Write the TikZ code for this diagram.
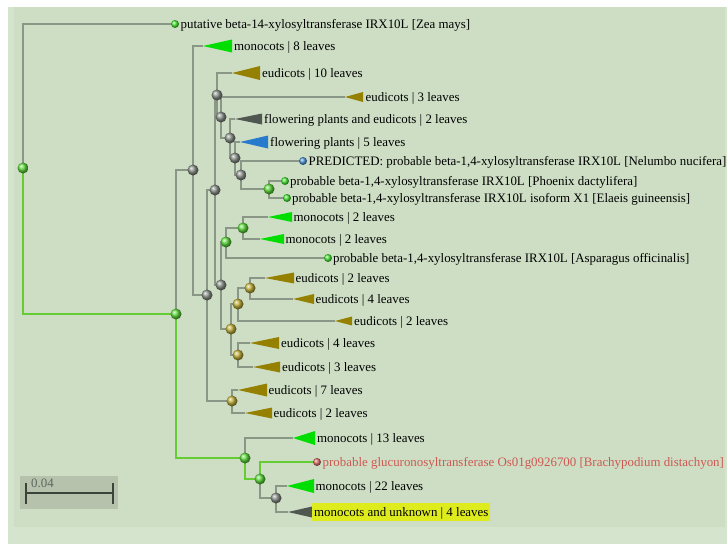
\documentclass[tikz,border=0pt]{standalone}
\usepackage{fontspec}
\setmainfont{Liberation Serif}
\usepackage{tikz}
\definecolor{tvwhite}{RGB}{255,255,255}
\definecolor{tvouter}{RGB}{213,228,204}
\definecolor{tvpanel}{RGB}{205,222,196}
\definecolor{tvbranch}{RGB}{138,150,134}
\definecolor{tvpath}{RGB}{102,204,51}
\definecolor{tvmono}{RGB}{0,222,0}
\definecolor{tveudi}{RGB}{150,128,0}
\definecolor{tvmixed}{RGB}{80,86,80}
\definecolor{tvflow}{RGB}{40,122,204}
\definecolor{tvballgray}{RGB}{140,146,138}
\definecolor{tvballgreen}{RGB}{95,220,60}
\definecolor{tvballolive}{RGB}{195,178,60}
\definecolor{tvdotgreen}{RGB}{70,235,50}
\definecolor{tvdotblue}{RGB}{80,150,215}
\definecolor{tvdotred}{RGB}{225,110,104}
\definecolor{tvred}{RGB}{205,88,82}
\definecolor{tvhilite}{RGB}{222,236,30}
\definecolor{tvscale}{RGB}{182,194,172}
\definecolor{tvbar}{RGB}{58,68,58}
\definecolor{tvscaletext}{RGB}{95,102,95}
\pgfdeclarelayer{panel}
\pgfdeclarelayer{branches}
\pgfsetlayers{panel,branches,main}
\tikzset{
  branch/.style={draw=tvbranch, line width=1.7pt},
  hit/.style={draw=tvpath, line width=1.7pt},
  inner/.style={circle, inner sep=0pt, minimum size=11pt},
  grayball/.style={inner, ball color=tvballgray},
  greenball/.style={inner, ball color=tvballgreen},
  oliveball/.style={inner, ball color=tvballolive},
  leafdot/.style={circle, inner sep=0pt, minimum size=8pt},
  monocl/.style={fill=tvmono},
  eudicl/.style={fill=tveudi},
  mixcl/.style={fill=tvmixed},
  flowcl/.style={fill=tvflow},
  lbl/.style={anchor=west, inner sep=0pt, text height=9pt, text depth=1pt, font=\fontsize{12.9}{14}\selectfont, text=black},
  scalebox/.style={fill=tvscale, minimum width=98pt, minimum height=33pt, inner sep=0pt},
  scalebar/.style={draw=tvbar, line width=1.5pt}
}
\begin{document}
\begin{tikzpicture}[x=1pt,y=-1pt]
    \useasboundingbox (0,0) rectangle (727,544);
    \begin{pgfonlayer}{panel}
      \fill[tvwhite] (0,0) rectangle (727,544);
      \fill[tvouter] (8,7) rectangle (727,544);
      \fill[tvpanel] (14,7) rectangle (725,527);
    \end{pgfonlayer}

    % internal nodes
    \node[greenball] (root) at (23,168) {};
    \node[greenball] (a) at (176,314) {};
    \node[grayball] (d) at (193,170) {};
    \node[grayball] (b) at (207,295) {};
    \node[grayball] (e) at (215,190) {};
    \node[grayball] (g) at (217,95) {};
    \node[grayball] (k) at (221,117) {};
    \node[grayball] (l) at (230,138) {};
    \node[grayball] (m) at (235,158) {};
    \node[grayball] (n) at (241,175) {};
    \node[greenball] (o) at (269,189) {};
    \node[grayball] (i) at (221,285) {};
    \node[greenball] (h) at (226,242) {};
    \node[greenball] (p) at (243,228) {};
    \node[oliveball] (j) at (231,329) {};
    \node[oliveball] (q) at (238,304) {};
    \node[oliveball] (s) at (250,288) {};
    \node[oliveball] (r) at (238,355) {};
    \node[oliveball] (f) at (232,401) {};
    \node[greenball] (c) at (245,458) {};
    \node[greenball] (t) at (260,479) {};
    \node[grayball] (u) at (276,498) {};

    % single leaves
    \node[leafdot, ball color=tvdotgreen] (zea) at (175,24) {};
    \node[lbl] (zea-l) at (180.5,24) {putative beta-14-xylosyltransferase IRX10L [Zea mays]};
    \node[leafdot, ball color=tvdotblue] (nelumbo) at (303,161) {};
    \node[lbl] (nelumbo-l) at (308.5,161) {PREDICTED: probable beta-1,4-xylosyltransferase IRX10L [Nelumbo nucifera]};
    \node[leafdot, ball color=tvdotgreen] (phoenix) at (285,181) {};
    \node[lbl] (phoenix-l) at (290,181) {probable beta-1,4-xylosyltransferase IRX10L [Phoenix dactylifera]};
    \node[leafdot, ball color=tvdotgreen] (elaeis) at (287,198) {};
    \node[lbl] (elaeis-l) at (292,198) {probable beta-1,4-xylosyltransferase IRX10L isoform X1 [Elaeis guineensis]};
    \node[leafdot, ball color=tvdotgreen] (asparagus) at (328,258) {};
    \node[lbl] (asparagus-l) at (333,258) {probable beta-1,4-xylosyltransferase IRX10L [Asparagus officinalis]};
    \node[leafdot, ball color=tvdotred] (brachy) at (317,462) {};
    \node[lbl, text=tvred] (brachy-l) at (322.5,462) {probable glucuronosyltransferase Os01g0926700 [Brachypodium distachyon]};

    % collapsed clades
    \coordinate (mono8) at (203,46);
    \fill[monocl] (mono8) -- ++(29,-6.5) -- ++(0,13) -- cycle;
    \node[lbl] (mono8-l) at (234,46) {monocots | 8 leaves};
    \coordinate (eud10) at (232,73);
    \fill[eudicl] (eud10) -- ++(28,-7) -- ++(0,14) -- cycle;
    \node[lbl] (eud10-l) at (262,73) {eudicots | 10 leaves};
    \coordinate (eud3a) at (345,97);
    \fill[eudicl] (eud3a) -- ++(18,-5) -- ++(0,10) -- cycle;
    \node[lbl] (eud3a-l) at (365.5,97) {eudicots | 3 leaves};
    \coordinate (fpe2) at (235,119);
    \fill[mixcl] (fpe2) -- ++(27,-5.5) -- ++(0,11) -- cycle;
    \node[lbl] (fpe2-l) at (264,119) {flowering plants and eudicots | 2 leaves};
    \coordinate (fp5) at (240,142);
    \fill[flowcl] (fp5) -- ++(28,-6.5) -- ++(0,13) -- cycle;
    \node[lbl] (fp5-l) at (270,142) {flowering plants | 5 leaves};
    \coordinate (mono2a) at (268,217);
    \fill[monocl] (mono2a) -- ++(24,-5) -- ++(0,10) -- cycle;
    \node[lbl] (mono2a-l) at (293.5,217) {monocots | 2 leaves};
    \coordinate (mono2b) at (260,239);
    \fill[monocl] (mono2b) -- ++(24,-5) -- ++(0,10) -- cycle;
    \node[lbl] (mono2b-l) at (285.5,239) {monocots | 2 leaves};
    \coordinate (eud2a) at (265,278);
    \fill[eudicl] (eud2a) -- ++(29,-5.5) -- ++(0,11) -- cycle;
    \node[lbl] (eud2a-l) at (295.5,278) {eudicots | 2 leaves};
    \coordinate (eud4a) at (293,299);
    \fill[eudicl] (eud4a) -- ++(21,-5) -- ++(0,10) -- cycle;
    \node[lbl] (eud4a-l) at (315.5,299) {eudicots | 4 leaves};
    \coordinate (eud2b) at (335,321);
    \fill[eudicl] (eud2b) -- ++(17,-4.5) -- ++(0,9) -- cycle;
    \node[lbl] (eud2b-l) at (354,321) {eudicots | 2 leaves};
    \coordinate (eud4b) at (250,343);
    \fill[eudicl] (eud4b) -- ++(29,-6) -- ++(0,12) -- cycle;
    \node[lbl] (eud4b-l) at (281,343) {eudicots | 4 leaves};
    \coordinate (eud3b) at (253,367);
    \fill[eudicl] (eud3b) -- ++(27,-5.5) -- ++(0,11) -- cycle;
    \node[lbl] (eud3b-l) at (282,367) {eudicots | 3 leaves};
    \coordinate (eud7) at (238,390);
    \fill[eudicl] (eud7) -- ++(29,-6.5) -- ++(0,13) -- cycle;
    \node[lbl] (eud7-l) at (268.5,390) {eudicots | 7 leaves};
    \coordinate (eud2c) at (245,413);
    \fill[eudicl] (eud2c) -- ++(27,-5.5) -- ++(0,11) -- cycle;
    \node[lbl] (eud2c-l) at (273.5,413) {eudicots | 2 leaves};
    \coordinate (mono13) at (293,438);
    \fill[monocl] (mono13) -- ++(22,-7) -- ++(0,14) -- cycle;
    \node[lbl] (mono13-l) at (317,438) {monocots | 13 leaves};
    \coordinate (mono22) at (287,486);
    \fill[monocl] (mono22) -- ++(27,-7) -- ++(0,14) -- cycle;
    \node[lbl] (mono22-l) at (315.5,486) {monocots | 22 leaves};
    \coordinate (mu4) at (288,512);
    \fill[mixcl] (mu4) -- ++(24,-5.5) -- ++(0,11) -- cycle;
    \node[lbl, fill=tvhilite, inner xsep=2pt, inner ysep=4pt] (mu4-l) at (312,512) {monocots and unknown | 4 leaves};

    % branches
    \begin{pgfonlayer}{branches}
      \draw[branch] (root.center) |- (zea.center);
      \draw[hit] (root.center) |- (a.center);
      \draw[branch] (a.center) |- (d.center);
      \draw[hit] (a.center) |- (c.center);
      \draw[branch] (d.center) |- (mono8);
      \draw[branch] (d.center) |- (b.center);
      \draw[branch] (b.center) |- (e.center);
      \draw[branch] (b.center) |- (f.center);
      \draw[branch] (e.center) |- (g.center);
      \draw[branch] (e.center) |- (i.center);
      \draw[branch] (g.center) |- (eud10);
      \draw[branch] (g.center) |- (k.center);
      \draw[branch] (k.center) |- (eud3a);
      \draw[branch] (k.center) |- (l.center);
      \draw[branch] (l.center) |- (fpe2);
      \draw[branch] (l.center) |- (m.center);
      \draw[branch] (m.center) |- (fp5);
      \draw[branch] (m.center) |- (n.center);
      \draw[branch] (n.center) |- (nelumbo.center);
      \draw[branch] (n.center) |- (o.center);
      \draw[branch] (o.center) |- (phoenix.center);
      \draw[branch] (o.center) |- (elaeis.center);
      \draw[branch] (i.center) |- (h.center);
      \draw[branch] (i.center) |- (j.center);
      \draw[branch] (h.center) |- (p.center);
      \draw[branch] (h.center) |- (asparagus.center);
      \draw[branch] (p.center) |- (mono2a);
      \draw[branch] (p.center) |- (mono2b);
      \draw[branch] (j.center) |- (q.center);
      \draw[branch] (j.center) |- (r.center);
      \draw[branch] (q.center) |- (s.center);
      \draw[branch] (q.center) |- (eud2b);
      \draw[branch] (s.center) |- (eud2a);
      \draw[branch] (s.center) |- (eud4a);
      \draw[branch] (r.center) |- (eud4b);
      \draw[branch] (r.center) |- (eud3b);
      \draw[branch] (f.center) |- (eud7);
      \draw[branch] (f.center) |- (eud2c);
      \draw[branch] (c.center) |- (mono13);
      \draw[hit] (c.center) |- (t.center);
      \draw[hit] (t.center) |- (brachy.center);
      \draw[branch] (t.center) |- (u.center);
      \draw[branch] (u.center) |- (mono22);
      \draw[branch] (u.center) |- (mu4);
    \end{pgfonlayer}

    % scale
    \node[scalebox] (scale) at (69,492.5) {};
    \coordinate (sb-l) at (26,493);
    \coordinate (sb-r) at (113,493);
    \draw[scalebar] (sb-l) -- (sb-r);
    \draw[scalebar] ([yshift=-11pt]sb-l) -- ([yshift=10pt]sb-l);
    \draw[scalebar] ([yshift=-11pt]sb-r) -- ([yshift=10pt]sb-r);
    \node[lbl, text=tvscaletext, anchor=base west, text height=, text depth=] (scale-l) at (31,487) {0.04};
\end{tikzpicture}
\end{document}
